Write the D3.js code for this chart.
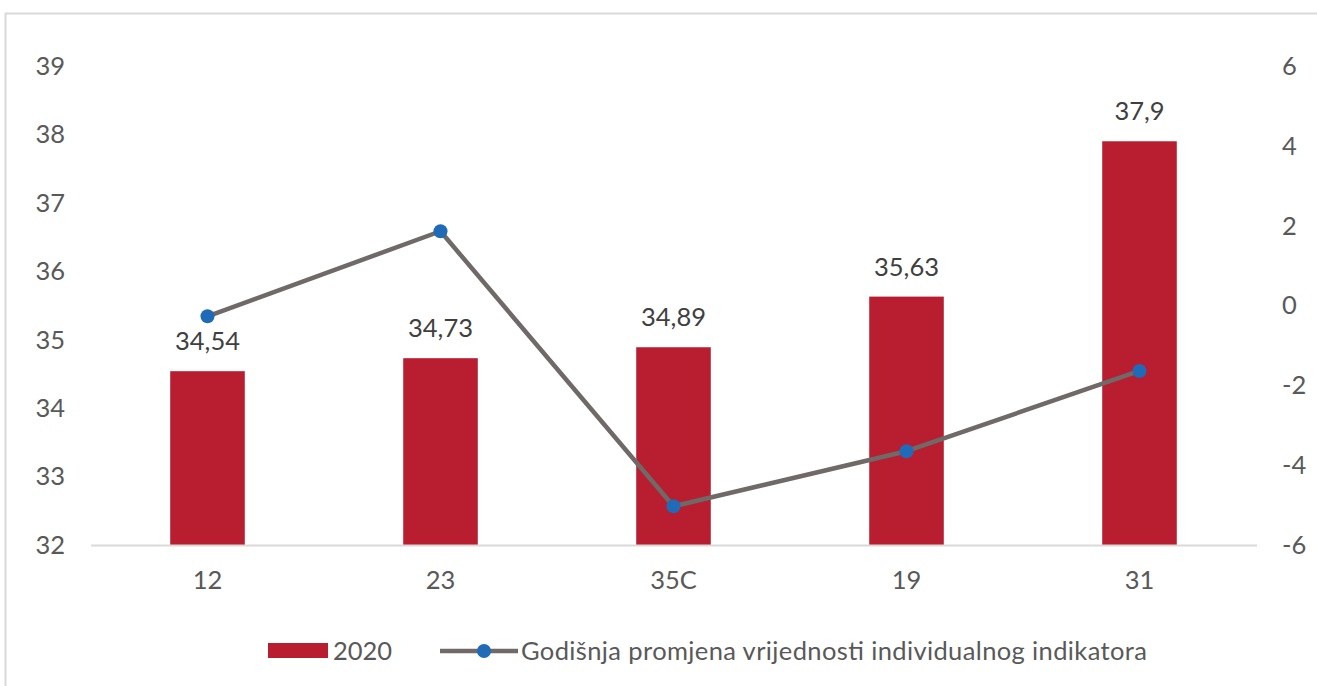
<!DOCTYPE html>
<html><head><meta charset="utf-8">
<script src="https://cdn.jsdelivr.net/npm/d3@7"></script>
<style>body{margin:0;background:#fff}svg{display:block}</style>
</head><body>
<svg id="c" width="1317" height="686"></svg>
<script>
const categories = ["12","23","35C","19","31"];
const bars2020 = [34.54, 34.73, 34.89, 35.63, 37.9];
const barLabels = ["34,54","34,73","34,89","35,63","37,9"];
const annualChange = [-0.27, 1.86, -5.03, -3.65, -1.64];
const leftTicks = [32,33,34,35,36,37,38,39];
const rightTicks = [-6,-4,-2,0,2,4,6];
const seriesNames = ["2020","Godišnja promjena vrijednosti individualnog indikatora"];

(function(){
const font = "'Gill Sans','Gill Sans MT',Lato,'Open Sans',sans-serif";
const fs = 25.5;
const textCol = "#595959";
const svg = d3.select("#c");
svg.append("rect").attr("x",5.5).attr("y",13.5).attr("width",1330).attr("height",700)
  .attr("fill","#fff").attr("stroke","#d9d9d9").attr("stroke-width",2);

const pL=91,pR=1256,pT=66,pB=545;
const x = d3.scaleBand().domain(categories).range([pL,pR]).paddingInner(0.68).paddingOuter(0.34);
const yL = d3.scaleLinear().domain([32,39]).range([pB,pT]);
const yR = d3.scaleLinear().domain([-6,6]).range([pB,pT]);

svg.append("g").selectAll("text").data(leftTicks).join("text")
  .attr("x",65).attr("y",d=>yL(d)).attr("dy","0.35em").attr("text-anchor","end")
  .attr("font-family",font).attr("font-size",fs).attr("fill",textCol).text(d=>d);
svg.append("g").selectAll("text").data(rightTicks).join("text")
  .attr("x",1282).attr("y",d=>yR(d)).attr("dy","0.35em").attr("text-anchor","start")
  .attr("font-family",font).attr("font-size",fs).attr("fill",textCol).text(d=>d);

svg.append("g").selectAll("rect").data(bars2020).join("rect")
  .attr("x",(d,i)=>x(categories[i])).attr("width",x.bandwidth())
  .attr("y",d=>yL(d)).attr("height",d=>yL(32)-yL(d)).attr("fill","#b91d30");

svg.append("line").attr("x1",pL).attr("x2",pR+1).attr("y1",pB+0.5).attr("y2",pB+0.5)
  .attr("stroke","#d9d9d9").attr("stroke-width",2);

svg.append("g").selectAll("text").data(categories).join("text")
  .attr("x",d=>x(d)+x.bandwidth()/2).attr("y",580).attr("dy","0.35em").attr("text-anchor","middle")
  .attr("font-family",font).attr("font-size",fs).attr("fill",textCol).text(d=>d);

svg.append("g").selectAll("text").data(bars2020).join("text")
  .attr("x",(d,i)=>x(categories[i])+x.bandwidth()/2).attr("y",d=>yL(d)-21)
  .attr("text-anchor","middle").attr("font-family",font).attr("font-size",fs).attr("fill","#404040")
  .text((d,i)=>barLabels[i]);

const cx = (i)=>x(categories[i])+x.bandwidth()/2;
const line = d3.line().x((d,i)=>cx(i)).y(d=>yR(d));
svg.append("path").datum(annualChange).attr("d",line).attr("fill","none")
  .attr("stroke","#6f6967").attr("stroke-width",4.5).attr("stroke-linejoin","round");
svg.append("g").selectAll("circle").data(annualChange).join("circle")
  .attr("cx",(d,i)=>cx(i)).attr("cy",d=>yR(d)).attr("r",7).attr("fill","#1f6bb8");

const lg = svg.append("g");
lg.append("rect").attr("x",268).attr("y",643).attr("width",60).attr("height",15).attr("fill","#b91d30");
lg.append("text").attr("x",333).attr("y",651).attr("dy","0.35em").attr("font-family",font)
  .attr("font-size",fs).attr("fill",textCol).text(seriesNames[0]);
lg.append("line").attr("x1",440).attr("x2",518).attr("y1",651).attr("y2",651)
  .attr("stroke","#6f6967").attr("stroke-width",4.5);
lg.append("circle").attr("cx",484).attr("cy",651).attr("r",7).attr("fill","#1f6bb8");
lg.append("text").attr("x",521).attr("y",651).attr("dy","0.35em").attr("font-family",font)
  .attr("font-size",fs).attr("fill",textCol).attr("textLength",626).attr("lengthAdjust","spacing")
  .text(seriesNames[1]);
})();
</script>
</body></html>
